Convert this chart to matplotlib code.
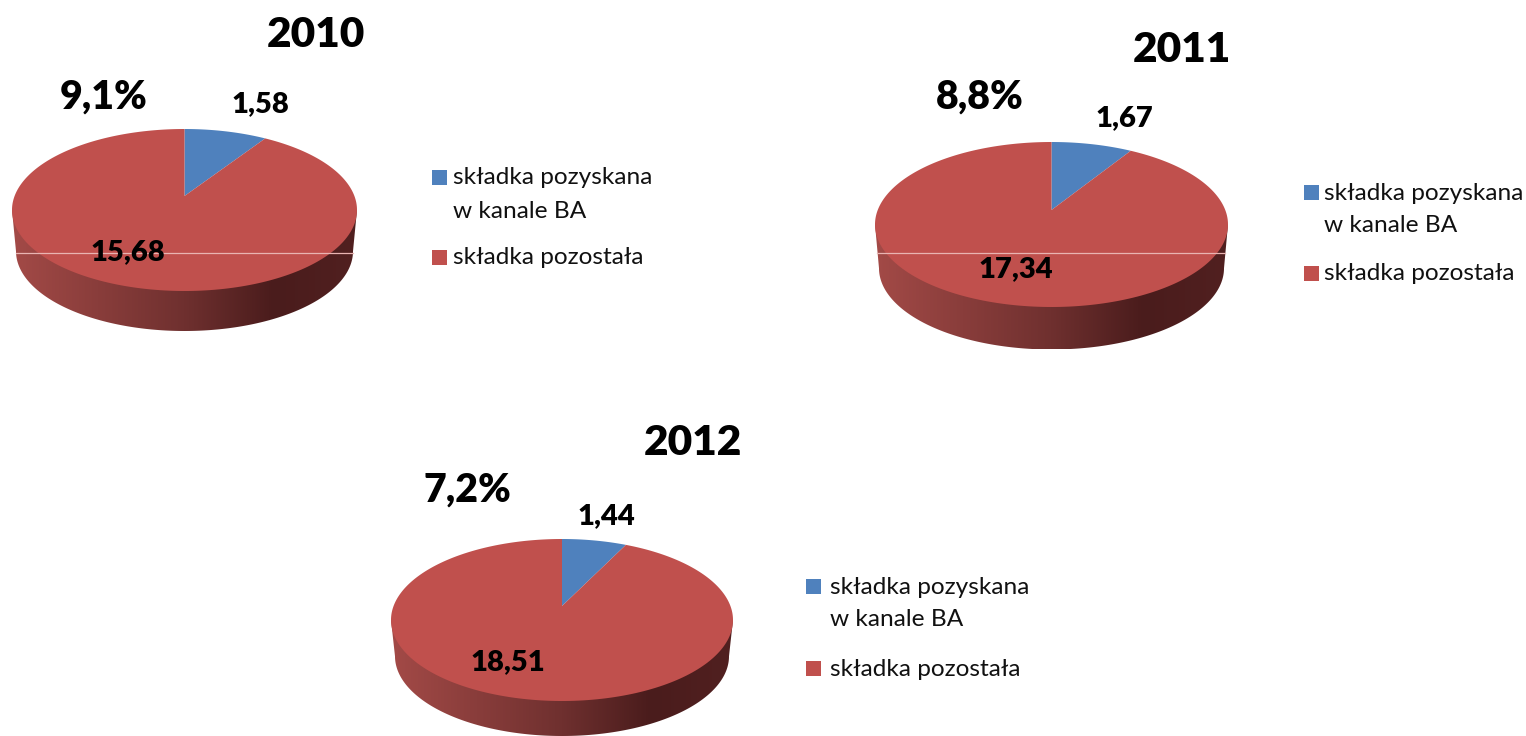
import numpy as np
import matplotlib
matplotlib.use("Agg")
import matplotlib.pyplot as plt
from matplotlib.colors import LinearSegmentedColormap
from matplotlib.patches import Polygon, Rectangle
from matplotlib.transforms import Affine2D

plt.rcParams['font.family'] = ['Lato', 'DejaVu Sans']

years = ['2010', '2011', '2012']
ba_premium = [1.58, 1.67, 1.44]
other_premium = [15.68, 17.34, 18.51]
shares = ['9,1%', '8,8%', '7,2%']
legend_lines = [['składka pozyskana', 'w kanale BA'], ['składka pozostała']]

W, H = 1526, 736
BLUE, RED = '#4F81BD', '#C0504D'
WALL = LinearSegmentedColormap.from_list(
    'wall', [(0, '#A34A47'), (0.5, '#6F302F'), (0.76, '#4A1C1C'), (1, '#512020')])

# layout per chart, in pixels
pies = [
    dict(left=12, right=357, top=129, bottom=291, apex=196, floor=331),
    dict(left=875, right=1228, top=142, bottom=307, apex=210, floor=349.5),
    dict(left=391, right=733, top=539, bottom=701, apex=606, floor=736),
]
title_xy = [(316, 35), (1182, 50), (693, 443)]
share_xy = [(104, 97), (980, 97), (467, 490)]
ba_xy = [(260, 104), (1124, 118), (606, 516)]
other_xy = [(128, 252), (1016, 269), (508, 662)]
legend_xy = [(432, 178, 211, 258), (1304, 193, 226, 274), (806, 587, 620, 669)]
legend_text_x = [453, 1324, 830]
flaw_lines = [(16, 353, 252.7), (877, 1225, 252.7)]  # thin light line in the source


def warp(xy, p):
    """Perspective view of the flat unit-circle pie, to pixel coords."""
    up, down = p['apex'] - p['top'], p['bottom'] - p['apex']
    k = (up - down) / (up + down)
    b = up * (1 - k)
    a = (p['right'] - p['left']) / 2 * np.sqrt(1 - k ** 2)
    cx = (p['left'] + p['right']) / 2
    d = 1 - k * xy[:, 1]
    return np.column_stack([cx + a * xy[:, 0] / d, p['apex'] - b * xy[:, 1] / d])


def draw_wall(ax, p):
    cx = (p['left'] + p['right']) / 2
    a = (p['right'] - p['left']) / 2
    cy = (p['top'] + p['bottom']) / 2
    b = (p['bottom'] - p['top']) / 2 * 0.985
    a2 = a - 4
    y2 = p['floor'] - b
    t = np.linspace(np.pi, 0, 200)
    arc = np.column_stack([cx + a2 * np.cos(t), y2 + b * np.sin(t)])
    outline = np.vstack([[cx - a, cy], arc, [cx + a, cy]])
    clip = Polygon(outline, closed=True, transform=ax.transData, fc='none', ec='none')
    ax.add_patch(clip)
    im = ax.imshow(np.linspace(0, 1, 256)[None, :], cmap=WALL, aspect='auto',
                   extent=(cx - a, cx + a, p['floor'], cy), zorder=1)
    im.set_clip_path(clip)


def draw_pie(ax, p, values):
    wedges, _ = ax.pie(values, colors=[BLUE, RED], startangle=90, counterclock=False,
                       radius=1, center=(0, 0))
    for wedge in wedges:
        # flatten at large scale so the curve stays smooth
        big = wedge.get_path().transformed(Affine2D().scale(2000))
        pts = big.to_polygons()[0] / 2000
        ax.add_patch(Polygon(warp(pts, p), closed=True, fc=wedge.get_facecolor(),
                             ec='none', zorder=2))
        wedge.remove()


fig = plt.figure(figsize=(W / 100, H / 100), dpi=100)
ax = fig.add_axes([0, 0, 1, 1])

for i, p in enumerate(pies):
    draw_wall(ax, p)
    draw_pie(ax, p, [ba_premium[i], other_premium[i]])

    ax.text(*title_xy[i], years[i], fontsize=30.5, fontweight='heavy',
            ha='center', va='center', zorder=5)
    ax.text(*share_xy[i], shares[i], fontsize=28.3, fontweight='heavy',
            ha='center', va='center', zorder=5)
    ax.text(*ba_xy[i], f'{ba_premium[i]:.2f}'.replace('.', ','), fontsize=21,
            fontweight='heavy', ha='center', va='center', zorder=5)
    ax.text(*other_xy[i], f'{other_premium[i]:.2f}'.replace('.', ','), fontsize=21,
            fontweight='heavy', ha='center', va='center', zorder=5)

    mx, y1, y2, y3 = legend_xy[i]
    ax.add_patch(Rectangle((mx, y1 - 8.5), 15, 15, fc=BLUE, ec='none', zorder=3))
    ax.add_patch(Rectangle((mx, y3 - 8.5), 15, 15, fc=RED, ec='none', zorder=3))
    for y, line in zip((y1, y2, y3), legend_lines[0] + legend_lines[1]):
        ax.text(legend_text_x[i], y, line, fontsize=17.6, color='#111111',
                ha='left', va='center')

for x0, x1, y in flaw_lines:
    ax.plot([x0, x1], [y, y], color='#E9B4B2', lw=0.9, zorder=3)

ax.set_xlim(0, W)
ax.set_ylim(H, 0)
ax.set_aspect('auto')
ax.axis('off')

fig.savefig('out.png', dpi=100)
